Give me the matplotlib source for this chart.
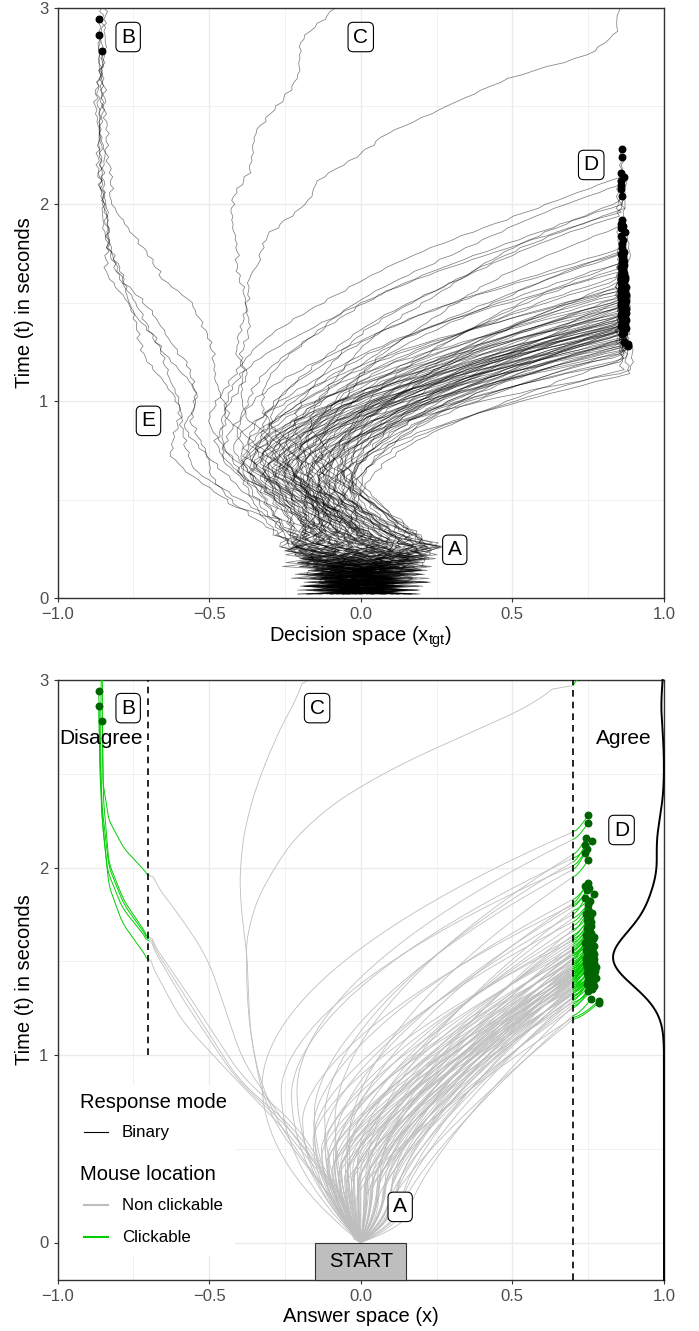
import numpy as np
import matplotlib.pyplot as plt
from matplotlib.patches import Rectangle

plt.rcParams['font.family'] = ['Liberation Sans', 'DejaVu Sans']
plt.rcParams['mathtext.fontset'] = 'custom'
plt.rcParams['mathtext.rm'] = 'Liberation Sans'

# end times (s) of the trials that finished on the "agree" side (the dots, D)
agree_t = [2.28, 2.24, 2.16, 2.14, 2.12, 2.10, 2.08, 2.04,
           1.92, 1.90, 1.89, 1.88, 1.86, 1.84, 1.82, 1.80, 1.78, 1.76, 1.75, 1.73, 1.72, 1.71,
           1.70, 1.69, 1.68, 1.67,
           1.66, 1.65, 1.65, 1.64, 1.63, 1.63, 1.62, 1.62, 1.61, 1.60, 1.60, 1.59, 1.58, 1.58,
           1.57, 1.57, 1.56, 1.56, 1.55, 1.55, 1.55, 1.54, 1.54, 1.53, 1.53, 1.53, 1.52, 1.52,
           1.52, 1.51, 1.51, 1.51, 1.50, 1.50, 1.50, 1.49, 1.49, 1.49, 1.48, 1.48, 1.47, 1.47,
           1.46, 1.46, 1.45, 1.45, 1.44, 1.44, 1.43, 1.43, 1.42, 1.42, 1.41, 1.40, 1.40, 1.39,
           1.38, 1.37, 1.36, 1.35, 1.34, 1.30, 1.29, 1.28]
# answer-space x of those dots (bottom panel)
agree_x = [0.750, 0.750, 0.743, 0.761, 0.740, 0.745, 0.740, 0.750,
           0.750, 0.740, 0.752, 0.745, 0.769, 0.740, 0.755, 0.748, 0.750, 0.762, 0.742, 0.755, 0.746, 0.760,
           0.748, 0.758, 0.745, 0.752,
           0.748, 0.760, 0.750, 0.742, 0.755, 0.768, 0.765, 0.745, 0.750, 0.758, 0.740, 0.762, 0.748, 0.770,
           0.745, 0.755, 0.760, 0.742, 0.750, 0.765, 0.748, 0.755, 0.770, 0.745, 0.760, 0.752, 0.748, 0.765,
           0.742, 0.758, 0.770, 0.750, 0.745, 0.762, 0.755, 0.748, 0.768, 0.742, 0.760, 0.752, 0.775, 0.746,
           0.758, 0.765, 0.750, 0.772, 0.745, 0.760, 0.755, 0.768, 0.748, 0.762, 0.775, 0.750, 0.758, 0.766,
           0.745, 0.770, 0.755, 0.762, 0.748, 0.760, 0.785, 0.785]

# "disagree" trials (B) that finished before 3 s
disagree_t = [2.94, 2.86, 2.78]
disagree_x = [-0.864, -0.864, -0.852]

# hand-read waypoints (time, x) of the trials that went left or stayed open
top_left = [
    ([0.02, 0.25, 0.46, 0.55, 0.63, 0.72, 0.94, 1.07, 1.21, 1.48, 1.65, 2.00, 2.40, 2.94],
     [0.00, 0.10, -0.40, -0.49, -0.57, -0.625, -0.60, -0.647, -0.70, -0.757, -0.83, -0.855, -0.86, -0.864]),
    ([0.02, 0.25, 0.50, 0.65, 0.77, 0.87, 1.02, 1.18, 1.33, 1.45, 1.78, 2.20, 2.86],
     [0.00, -0.15, -0.40, -0.55, -0.59, -0.60, -0.59, -0.64, -0.68, -0.746, -0.84, -0.85, -0.864]),
    ([0.02, 0.25, 0.53, 0.67, 0.77, 0.87, 0.97, 1.19, 1.35, 1.60, 1.90, 2.30, 2.78],
     [0.00, 0.05, -0.39, -0.48, -0.526, -0.57, -0.54, -0.57, -0.65, -0.78, -0.84, -0.85, -0.852]),
    ([0.02, 0.25, 0.57, 0.68, 0.80, 0.94, 1.11, 1.28, 1.41, 1.51, 1.62, 1.92, 2.02, 2.40, 3.00],
     [0.00, -0.05, -0.35, -0.43, -0.48, -0.44, -0.48, -0.505, -0.526, -0.548, -0.647, -0.78, -0.83, -0.855, -0.85]),
    ([0.02, 0.25, 0.50, 0.62, 0.75, 0.90, 1.05, 1.20, 1.40, 1.60, 1.85, 2.30, 3.00],
     [0.00, -0.20, -0.42, -0.50, -0.52, -0.56, -0.55, -0.62, -0.70, -0.79, -0.845, -0.86, -0.855]),
]
top_open = [
    ([0.02, 0.25, 0.60, 0.73, 0.84, 0.94, 1.14, 1.24, 1.38, 1.55, 1.68, 1.90, 2.05, 2.16, 2.36, 2.53, 2.66, 2.84, 3.00],
     [0.00, 0.12, -0.38, -0.46, -0.44, -0.39, -0.373, -0.394, -0.373, -0.383, -0.42, -0.416, -0.407, -0.37, -0.343, -0.268, -0.217, -0.186, -0.08]),
    ([0.02, 0.25, 0.60, 0.75, 0.94, 1.14, 1.24, 1.41, 1.62, 1.70, 1.85, 1.97, 2.02, 2.12, 2.24, 2.36, 2.48, 2.64, 2.76, 2.87, 3.00],
     [0.00, -0.10, -0.35, -0.45, -0.44, -0.383, -0.416, -0.39, -0.373, -0.327, -0.294, -0.21, -0.175, -0.142, -0.015, 0.073, 0.25, 0.50, 0.755, 0.843, 0.856]),
]
# answer space: (grey part, green part) for the left trials
bottom_left = [
    (([0, 0.26, 0.61, 0.86, 1.29, 1.62], [0, -0.07, -0.22, -0.40, -0.57, -0.70]),
     ([1.62, 1.80, 2.00, 2.30, 2.60, 2.94], [-0.70, -0.78, -0.83, -0.852, -0.86, -0.864])),
    (([0, 0.26, 0.60, 0.90, 1.18, 1.51], [0, -0.08, -0.25, -0.43, -0.59, -0.70]),
     ([1.51, 1.70, 1.90, 2.20, 2.50, 2.86], [-0.70, -0.785, -0.83, -0.85, -0.86, -0.864])),
    (([0, 0.26, 0.61, 0.97, 1.26, 1.52, 1.75, 1.96], [0, -0.075, -0.24, -0.39, -0.45, -0.505, -0.60, -0.70]),
     ([1.96, 2.10, 2.25, 2.45, 2.78], [-0.70, -0.78, -0.83, -0.85, -0.852])),
    (([0, 0.26, 0.62, 0.88, 1.30, 1.63], [0, -0.065, -0.21, -0.39, -0.56, -0.70]),
     ([1.63, 1.82, 2.02, 2.35, 2.70, 3.00], [-0.70, -0.78, -0.83, -0.848, -0.852, -0.852])),
    (([0, 0.26, 0.60, 0.87, 1.28, 1.61], [0, -0.07, -0.23, -0.41, -0.58, -0.70]),
     ([1.61, 1.78, 1.98, 2.30, 2.65, 3.00], [-0.70, -0.785, -0.835, -0.855, -0.858, -0.856])),
]
bottom_open = [
    ([0, 0.25, 0.55, 0.70, 0.97, 1.25, 1.42, 1.60, 1.78, 2.07, 2.28, 2.46, 2.67, 2.87, 3.00],
     [0, -0.10, -0.25, -0.31, -0.35, -0.373, -0.368, -0.379, -0.398, -0.398, -0.373, -0.34, -0.285, -0.229, -0.17]),
    ([0, 0.25, 0.55, 0.75, 1.04, 1.42, 1.60, 1.72, 1.82, 2.05, 2.26, 2.46, 2.65, 2.83, 2.97],
     [0, -0.10, -0.24, -0.31, -0.36, -0.38, -0.373, -0.38, -0.34, -0.273, -0.163, 0.0145, 0.258, 0.524, 0.70]),
]

GREY = '#BEBEBE'
GREEN = '#00CD00'
DKGREEN = '#006400'
n = len(agree_t)
v1 = [((i * 37) % n) / (n - 1) - 0.5 for i in range(n)]
v2 = [((i * 53) % n) / (n - 1) - 0.5 for i in range(n)]
v3 = [((i * 29) % n) / (n - 1) - 0.5 for i in range(n)]


def wobble(m, s):
    k = np.arange(m)
    return (0.5 * np.sin(2.399 * k + 1.7 * s) + 0.3 * np.sin(4.181 * k + 0.9 * s * s)
            + 0.2 * np.sin(7.77 * k + 3.1 * s))


def meander(m, s):
    k = np.arange(m)
    return np.sin(0.21 * k + 2.3 * s) * np.sin(0.083 * k + 0.6 * s)


def jitter(t, x, s):
    amp = 0.009 + 0.22 * np.exp(-(t / 0.2) ** 2)
    return x + amp * wobble(len(t), s) + 0.015 * meander(len(t), s) * np.clip(t / 0.4, 0, 1)


def smooth(tp, xp, m=160, w=9):
    t = np.linspace(tp[0], tp[-1], m)
    x = np.interp(t, tp, xp)
    xpad = np.concatenate([np.full(w, x[0]), x, np.full(w, x[-1])])
    x = np.convolve(xpad, np.ones(2 * w + 1) / (2 * w + 1), mode='same')[w:-w]
    x[0], x[-1] = xp[0], xp[-1]
    return t, x


def style(ax, ylim):
    ax.set_xlim(-1, 1)
    ax.set_ylim(*ylim)
    ax.set_xticks([-1, -0.5, 0, 0.5, 1])
    ax.set_xticklabels(['\u22121.0', '\u22120.5', '0.0', '0.5', '1.0'])
    ax.set_xticks([-0.75, -0.25, 0.25, 0.75], minor=True)
    ax.set_yticks([0, 1, 2, 3])
    ax.set_yticks([0.5, 1.5, 2.5], minor=True)
    ax.grid(which='major', color='#EBEBEB', lw=1.0, zorder=0)
    ax.grid(which='minor', color='#EBEBEB', lw=0.5, zorder=0)
    ax.set_axisbelow(True)
    for sp in ax.spines.values():
        sp.set_color('#333333')
        sp.set_linewidth(1.0)
    ax.tick_params(which='major', length=3, color='#333333', labelcolor='#4D4D4D', labelsize=12)
    ax.tick_params(which='minor', length=0)


def label(ax, x, y, s):
    ax.text(x, y, s, ha='center', va='center', fontsize=15, zorder=10,
            bbox=dict(boxstyle='round,pad=0.25,rounding_size=0.25', fc='white', ec='black', lw=0.8))


fig = plt.figure(figsize=(6.99, 13.31), dpi=100)
ax1 = fig.add_axes([57.5 / 699, 1 - 598 / 1331, 606.5 / 699, 590.5 / 1331])
ax2 = fig.add_axes([57.5 / 699, 1 - 1280 / 1331, 606.5 / 699, 600 / 1331])

# ---- top: decision space ----
line_kw = dict(color='black', alpha=0.5, lw=0.55, zorder=2)
top_x = [0.857 + (bx - 0.74) * 0.55 for bx in agree_x]
for i, (te, xe) in enumerate(zip(agree_t, top_x)):
    r = min(max((te - 1.28) / 1.0, 0), 1)
    xm = -0.18 - 0.12 * r + 0.4 * v1[i]
    tm = 0.5 + 0.45 * r + 0.12 * v2[i]
    tr = te - 0.14
    t = np.arange(0.02, te, 0.02)
    s = np.clip((t - tm) / (tr - tm), 0, 1)
    x_pre = np.interp(t, [0.0, 0.26, tm], [0.0, 0.5 * v3[i], xm])
    x = np.where(t < tm, x_pre, xm + (xe - xm) * s ** 1.8)
    x = jitter(t, x, i)
    ax1.plot(np.append(x, xe), np.append(t, te), **line_kw)

for j, (tp, xp) in enumerate(top_left + top_open):
    t = np.arange(tp[0], tp[-1], 0.02)
    x = jitter(t, np.interp(t, tp, xp), 100 + j)
    ax1.plot(np.append(x, xp[-1]), np.append(t, tp[-1]), **line_kw)

ax1.scatter(top_x, agree_t, s=22, color='black', zorder=4, clip_on=False)
ax1.scatter(disagree_x, disagree_t, s=22, color='black', zorder=4, clip_on=False)
style(ax1, (0, 3))
ax1.set_xlabel('Decision space (x$_{\\mathrm{tgt}}$)', fontsize=14.5, labelpad=2)
ax1.set_ylabel('Time (t) in seconds', fontsize=14.5, labelpad=4)
label(ax1, -0.767, 2.85, 'B')
label(ax1, 0.0, 2.85, 'C')
label(ax1, 0.76, 2.2, 'D')
label(ax1, -0.70, 0.90, 'E')
label(ax1, 0.31, 0.245, 'A')

# ---- bottom: answer space ----
for i, (te, xe) in enumerate(zip(agree_t, agree_x)):
    tc = te - 0.09
    rb = min(max((tc - 1.19) / 1.0, 0), 1)
    xm = 0.07 - 0.27 * rb + 0.25 * v1[i]
    tm = 0.2 + 0.5 * rb + 0.1 * v2[i] + 0.6 * max(0, -xm)
    p = 1.25 + 0.6 * rb
    t = np.linspace(0, tc, 150)
    u = np.clip(t / tm, 0, 1)
    s = np.clip((t - tm) / (tc - tm), 0, 1)
    x = np.where(t < tm, xm * (1 - (1 - u) ** 2), xm + (0.7 - xm) * s ** p)
    ax2.plot(x, t, color=GREY, lw=0.6, zorder=2)
    tg = np.linspace(tc, te, 12)
    xg = 0.7 + (xe - 0.7) * ((tg - tc) / (te - tc)) ** 0.7
    ax2.plot(xg, tg, color=GREEN, lw=0.7, zorder=3)

for (gp, cp) in bottom_left:
    t, x = smooth(*gp)
    ax2.plot(x, t, color=GREY, lw=0.6, zorder=2)
    t, x = smooth(*cp, w=5)
    ax2.plot(x, t, color=GREEN, lw=0.7, zorder=3)
for tp, xp in bottom_open:
    t, x = smooth(tp, xp)
    ax2.plot(x, t, color=GREY, lw=0.6, zorder=2)
ax2.plot([0.70, 0.712], [2.97, 3.0], color=GREEN, lw=0.7, zorder=3)

ax2.scatter(agree_x, agree_t, s=22, color=DKGREEN, zorder=5)
ax2.scatter(disagree_x, disagree_t, s=22, color=DKGREEN, zorder=5)

ax2.plot([-0.7, -0.7], [1, 3], color='black', lw=1.2, ls=(0, (4, 3)), zorder=4)
ax2.plot([0.7, 0.7], [-0.2, 3], color='black', lw=1.2, ls=(0, (4, 3)), zorder=4)

# response time density along the right edge
all_t = np.array(agree_t + disagree_t)
bw = 0.1
tt = np.linspace(-0.2, 3.0, 500)
dens = np.exp(-0.5 * ((tt[:, None] - all_t[None, :]) / bw) ** 2).sum(axis=1)
ax2.plot(1 - dens / dens.max() * 0.168, tt, color='black', lw=1.4, zorder=6, clip_on=False)

ax2.add_patch(Rectangle((-0.15, -0.2), 0.3, 0.2, fc=GREY, ec='#333333', lw=0.8, zorder=6, clip_on=False))
ax2.text(0, -0.1, 'START', ha='center', va='center', fontsize=14.5, zorder=7)

ax2.text(-0.855, 2.69, 'Disagree', ha='center', va='center', fontsize=15, zorder=8)
ax2.text(0.867, 2.69, 'Agree', ha='center', va='center', fontsize=15, zorder=8)
label(ax2, -0.767, 2.85, 'B')
label(ax2, -0.144, 2.85, 'C')
label(ax2, 0.86, 2.2, 'D')
label(ax2, 0.13, 0.19, 'A')

style(ax2, (-0.2, 3))
ax2.set_xlabel('Answer space (x)', fontsize=14.5, labelpad=2)
ax2.set_ylabel('Time (t) in seconds', fontsize=14.5, labelpad=4)


# legend, drawn in axes fractions
def fx(px):
    return (px - 57.5) / 606.5


def fy(py):
    return (1280 - py) / 600


tr2 = ax2.transAxes
ax2.add_patch(Rectangle((fx(60), fy(1256)), fx(235) - fx(60), fy(1085) - fy(1256),
                        transform=tr2, fc='white', ec='none', zorder=7))
ax2.text(fx(80), fy(1103), 'Response mode', transform=tr2, fontsize=14.5, va='center', zorder=8)
ax2.plot([fx(84), fx(108)], [fy(1132)] * 2, transform=tr2, color='black', lw=0.8, zorder=8)
ax2.text(fx(122), fy(1132), 'Binary', transform=tr2, fontsize=12.2, va='center', zorder=8)
ax2.text(fx(80), fy(1175), 'Mouse location', transform=tr2, fontsize=14.5, va='center', zorder=8)
ax2.plot([fx(84), fx(108)], [fy(1205)] * 2, transform=tr2, color=GREY, lw=1.5, zorder=8)
ax2.text(fx(122), fy(1205), 'Non clickable', transform=tr2, fontsize=12.2, va='center', zorder=8)
ax2.plot([fx(84), fx(108)], [fy(1237)] * 2, transform=tr2, color=GREEN, lw=1.5, zorder=8)
ax2.text(fx(122), fy(1237), 'Clickable', transform=tr2, fontsize=12.2, va='center', zorder=8)

fig.savefig('out.png', dpi=100)
